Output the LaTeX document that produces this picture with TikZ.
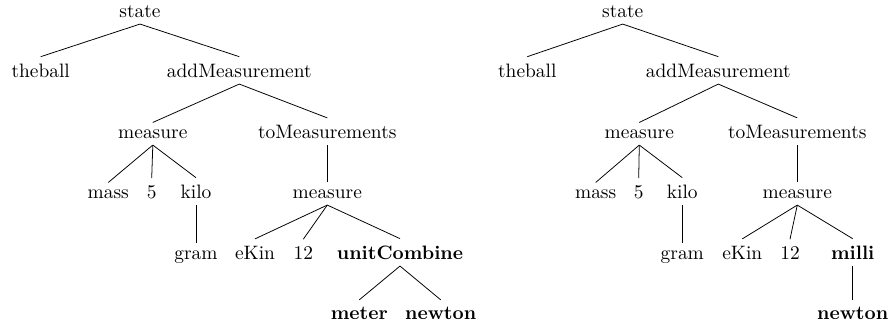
\documentclass[tikz,border=0pt]{standalone}
\tikzset{
  lbl/.style={inner sep=0.3333em, anchor=base},
  treeedge/.style={draw, line width=0.4pt}
}
\begin{document}
\begin{tikzpicture}[x=0.5152pt,y=-0.5152pt]
\useasboundingbox (0,0) rectangle (891,326);
% left tree
\node[lbl] (Ls) at (140,17) {state};
\node[lbl] (Lt) at (40.7,77) {theball};
\node[lbl] (La) at (239.3,77) {addMeasurement};
\node[lbl] (Lm) at (152.8,138) {measure};
\node[lbl] (Lto) at (327.3,138) {toMeasurements};
\node[lbl] (Lmass) at (108.3,198) {mass};
\node[lbl] (L5) at (151.7,198) {5};
\node[lbl] (Lk) at (196,198) {kilo};
\node[lbl] (Lm2) at (327.3,198) {measure};
\node[lbl] (Lg) at (196,259) {gram};
\node[lbl] (Le) at (255,259) {eKin};
\node[lbl] (L12) at (303.3,259) {12};
\node[lbl] (Lu) at (400,259) {\textbf{unitCombine}};
\node[lbl] (Lmet) at (359.3,319) {\textbf{meter}};
\node[lbl] (Ln) at (440.7,319) {\textbf{newton}};
\foreach \p/\c in {Ls/Lt,Ls/La,La/Lm,La/Lto,Lm/Lmass,Lm/L5,Lm/Lk,Lk/Lg,Lto/Lm2,Lm2/Le,Lm2/L12,Lm2/Lu,Lu/Lmet,Lu/Ln}
  \draw[treeedge] (\p.south) -- (\c.north);
% right tree
\node[lbl] (Rs) at (622.7,17) {state};
\node[lbl] (Rt) at (527.3,77) {theball};
\node[lbl] (Ra) at (718.3,77) {addMeasurement};
\node[lbl] (Rm) at (639.3,138) {measure};
\node[lbl] (Rto) at (797.3,138) {toMeasurements};
\node[lbl] (Rmass) at (595.7,198) {mass};
\node[lbl] (R5) at (638.7,198) {5};
\node[lbl] (Rk) at (682.3,198) {kilo};
\node[lbl] (Rm2) at (797.3,198) {measure};
\node[lbl] (Rg) at (682.3,259) {gram};
\node[lbl] (Re) at (742.3,259) {eKin};
\node[lbl] (R12) at (790,259) {12};
\node[lbl] (Rmi) at (852.7,259) {\textbf{milli}};
\node[lbl] (Rn) at (852.7,319) {\textbf{newton}};
\foreach \p/\c in {Rs/Rt,Rs/Ra,Ra/Rm,Ra/Rto,Rm/Rmass,Rm/R5,Rm/Rk,Rk/Rg,Rto/Rm2,Rm2/Re,Rm2/R12,Rm2/Rmi,Rmi/Rn}
  \draw[treeedge] (\p.south) -- (\c.north);
\end{tikzpicture}
\end{document}
